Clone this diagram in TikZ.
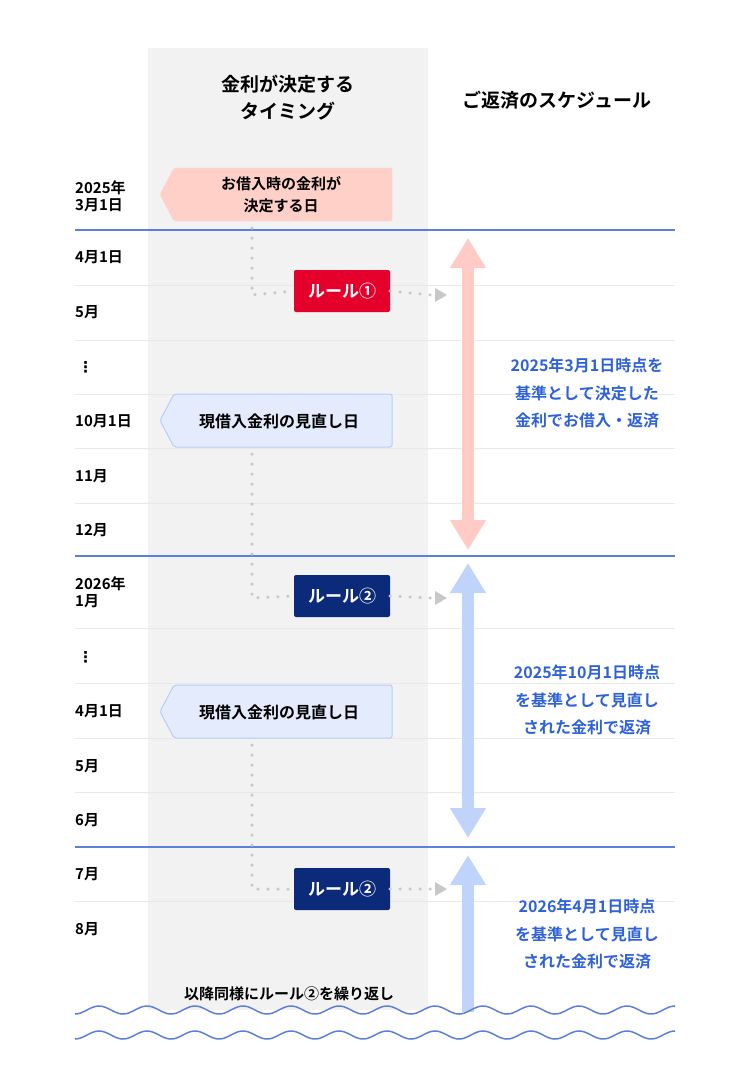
\documentclass[tikz,border=0pt]{standalone}
\usepackage{fontspec}
\setmainfont{Noto Sans CJK JP}[BoldFont={Noto Sans CJK JP Bold}]
\newfontfamily\djv{DejaVu Sans}[BoldFont={DejaVu Sans Bold}]
\usetikzlibrary{arrows.meta,shapes.geometric}
\definecolor{gcol}{HTML}{F2F2F2}
\definecolor{bline}{HTML}{5B80D8}
\definecolor{sepc}{HTML}{E8E8E8}
\definecolor{pinkf}{HTML}{FFD0C8}
\definecolor{bluef}{HTML}{E3EBFD}
\definecolor{bluee}{HTML}{B8CDF8}
\definecolor{redb}{HTML}{E4002B}
\definecolor{navyb}{HTML}{0B2A7A}
\definecolor{parrow}{HTML}{FFCBC4}
\definecolor{barrow}{HTML}{BFD3FB}
\definecolor{btext}{HTML}{2F62D6}
\definecolor{dotc}{HTML}{C8C8C8}
\tikzset{
 lab/.style={anchor=west,font=\bfseries\fontsize{15}{17}\selectfont,align=left,inner sep=0},
 head/.style={font=\bfseries\fontsize{19}{27}\selectfont,align=center},
 rtext/.style={font=\bfseries\fontsize{16}{27.5}\selectfont,text=btext,align=center},
 rulebox/.style={rounded corners=2pt,minimum width=96pt,minimum height=42pt,text=white,font=\bfseries\fontsize{17}{18}\selectfont},
 dots/.style={dotc,line width=3.5pt,line cap=round,dash pattern=on 0pt off 10pt},
 bigarrow/.style={line width=12pt},
}
\begin{document}
\begin{tikzpicture}[x=1pt,y=-1pt]
\useasboundingbox (0,0) rectangle (750,1090);
\fill[gcol] (148,48) rectangle (428,1010);
\node[head] (h1) at (288,98) {金利が決定する\\タイミング};
\node[head] (h2) at (557,100) {ご返済のスケジュール};
% separators
\foreach \y in {285,340,394,448,503,628,683,738,792,901}
  \draw[sepc,line width=1pt] (75,\y) -- (675,\y);
\foreach \y in {230,556,847}
  \draw[bline,line width=1.5pt] (75,\y) -- (675,\y);
% left labels
\node[lab] (l0) at (75,196) {2025年\\3月1日};
\node[lab] (l1) at (75,257) {4月1日};
\node[lab] (l2) at (75,312) {5月};
\node[lab] (l3) at (78,367) {\djv\bfseries ⋮};
\node[lab] (l4) at (75,421) {10月1日};
\node[lab] (l5) at (75,476) {11月};
\node[lab] (l6) at (75,530) {12月};
\node[lab] (l7) at (75,592) {2026年\\1月};
\node[lab] (l8) at (78,657) {\djv\bfseries ⋮};
\node[lab] (l9) at (75,711) {4月1日};
\node[lab] (l10) at (75,766) {5月};
\node[lab] (l11) at (75,820) {6月};
\node[lab] (l12) at (75,874) {7月};
\node[lab] (l13) at (75,929) {8月};
% banners
\filldraw[pinkf,rounded corners=2pt] (392,168) -- (392,221) -- (174,221) -- (160,194.5) -- (174,168) -- cycle;
\node[font=\bfseries\fontsize{15}{22}\selectfont,align=center] (b0) at (281,195) {お借入時の金利が\\決定する日};
\filldraw[fill=bluef,draw=bluee,line width=1pt,rounded corners=2pt] (392,394) -- (392,447) -- (174,447) -- (160,420.5) -- (174,394) -- cycle;
\node[font=\bfseries\fontsize{16}{18}\selectfont] (b1) at (279,421) {現借入金利の見直し日};
\filldraw[fill=bluef,draw=bluee,line width=1pt,rounded corners=2pt] (392,685) -- (392,738) -- (174,738) -- (160,711.5) -- (174,685) -- cycle;
\node[font=\bfseries\fontsize{16}{18}\selectfont] (b2) at (279,712) {現借入金利の見直し日};
% rule boxes
\node[rulebox,fill=redb] (r1) at (342,291) {ルール①};
\node[rulebox,fill=navyb] (r2) at (342,596) {ルール②};
\node[rulebox,fill=navyb] (r3) at (342,889) {ルール②};
% dotted connectors
\coordinate (c1) at (252,295); \coordinate (e1) at (432,295);
\draw[dots] (252,228) -- (c1) -- (r1.west);
\draw[dots] (r1.east) -- (e1);
\fill[dotc] (435,288) -- (447,295) -- (435,302) -- cycle;
\coordinate (c2) at (252,598); \coordinate (e2) at (432,598);
\draw[dots] (252,454) -- (c2) -- (r2.west);
\draw[dots] (r2.east) -- (e2);
\fill[dotc] (435,591) -- (447,598) -- (435,605) -- cycle;
\coordinate (c3) at (252,889); \coordinate (e3) at (432,889);
\draw[dots] (252,745) -- (c3) -- (r3.west);
\draw[dots] (r3.east) -- (e3);
\fill[dotc] (435,882) -- (447,889) -- (435,896) -- cycle;
% big arrows
\coordinate (a1s) at (468,238); \coordinate (a1e) at (468,550);
\draw[bigarrow,parrow,{Triangle[width=34pt,length=30pt]}-{Triangle[width=34pt,length=30pt]}] (a1s) -- (a1e);
\coordinate (a2s) at (468,563); \coordinate (a2e) at (468,838);
\draw[bigarrow,barrow,{Triangle[width=34pt,length=30pt]}-{Triangle[width=34pt,length=30pt]}] (a2s) -- (a2e);
\coordinate (a3s) at (468,1012); \coordinate (a3e) at (468,855);
\draw[bigarrow,barrow,-{Triangle[width=34pt,length=30pt]}] (a3s) -- (a3e);
% right texts
\node[rtext] (t1) at (587,393) {2025年3月1日時点を\\基準として決定した\\金利でお借入・返済};
\node[rtext] (t2) at (587,700) {2025年10月1日時点\\を基準として見直し\\された金利で返済};
\node[rtext] (t3) at (587,934) {2026年4月1日時点\\を基準として見直し\\された金利で返済};
\node[font=\bfseries\fontsize{15}{16}\selectfont] (ft) at (289,994) {以降同様にルール②を繰り返し};
% waves
\draw[bline,line width=1.5pt] plot[domain=75:675,samples=240,smooth] (\x,{1010+4*sin((\x-75)*7.5+90)});
\draw[bline,line width=1.5pt] plot[domain=75:675,samples=240,smooth] (\x,{1035+4*sin((\x-75)*7.5+90)});
\end{tikzpicture}
\end{document}
